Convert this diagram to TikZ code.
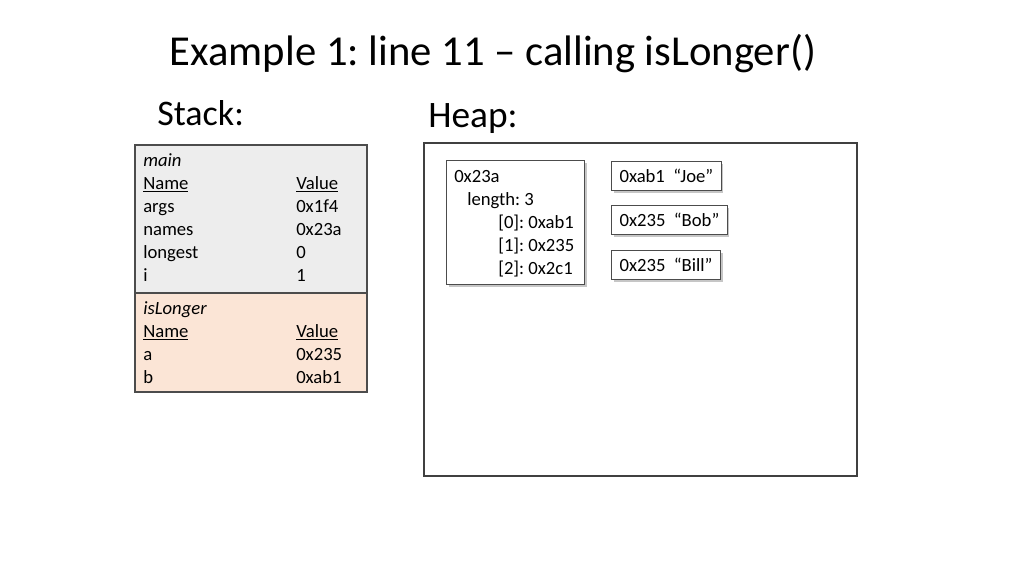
\documentclass[tikz,border=0pt]{standalone}
\usepackage{fontspec}
\setmainfont{Carlito}
\usetikzlibrary{shadows}
\definecolor{framegray}{RGB}{237,237,237}
\definecolor{framepeach}{RGB}{251,229,214}
\frenchspacing

\begin{document}
\begin{tikzpicture}[x=0.75pt,y=-0.75pt,
    cell/.style={anchor=base west,inner sep=0pt,font=\fontsize{14}{17}\selectfont},
    heapbox/.style={draw=black!70,fill=white,line width=0.8pt,
      drop shadow={shadow xshift=1.6pt,shadow yshift=-1.6pt,opacity=0.45}},
    strbox/.style={heapbox,anchor=north west,inner xsep=6pt,inner ysep=0pt,
      minimum height=22pt,font=\fontsize{14}{17}\selectfont}]
  \useasboundingbox (0,0) rectangle (1024,576);

  % titles
  \node[anchor=base,font=\fontsize{32}{38}\selectfont] (title) at (493,65) {Example 1: line 11 -- calling isLonger()};
  \node[anchor=base west,inner sep=0pt,font=\fontsize{27}{32}\selectfont] (stack) at (157,125) {Stack:};
  \node[anchor=base west,inner sep=0pt,font=\fontsize{28}{32}\selectfont] (heap) at (428,127) {Heap:};

  % stack frames
  \filldraw[fill=framegray,draw=black!70,line width=0.8pt] (135,145) rectangle (367,293);
  \filldraw[fill=framepeach,draw=black!70,line width=0.8pt] (135,293) rectangle (367,392);

  \node[cell] (mainlbl) at (143,166) {\textit{main}};
  \foreach \n/\v [count=\k] in {\underline{Name}/\underline{Value},args/0x1f4,names/0x23a,longest/0,i/1}
  {
    \node[cell] (mn\k) at (143,166+23*\k) {\n};
    \node[cell] (mv\k) at (296,166+23*\k) {\v};
  }
  \node[cell] (calllbl) at (143,314) {\textit{isLonger}};
  \foreach \n/\v [count=\k] in {\underline{Name}/\underline{Value},a/0x235,b/0xab1}
  {
    \node[cell] (cn\k) at (143,314+23*\k) {\n};
    \node[cell] (cv\k) at (296,314+23*\k) {\v};
  }

  % heap
  \draw[draw=black!75,line width=0.8pt] (424,143) rectangle (857,476);
  \node[heapbox,anchor=north west,minimum width=103.5pt,minimum height=93pt,inner sep=0pt] (arr) at (446,160) {};
  \node[cell] (addr) at (454,182) {0x23a};
  \node[cell] (len) at (467,205) {length: 3};
  \node[cell] (el0) at (498,228) {[0]: 0xab1};
  \node[cell] (el1) at (498,251) {[1]: 0x235};
  \node[cell] (el2) at (498,274) {[2]: 0x2c1};

  \node[strbox] (joe) at (611,161) {0xab1~~“Joe”};
  \node[strbox] (bob) at (611,205) {0x235~~“Bob”};
  \node[strbox] (bill) at (611,250) {0x235~~“Bill”};
\end{tikzpicture}
\end{document}
